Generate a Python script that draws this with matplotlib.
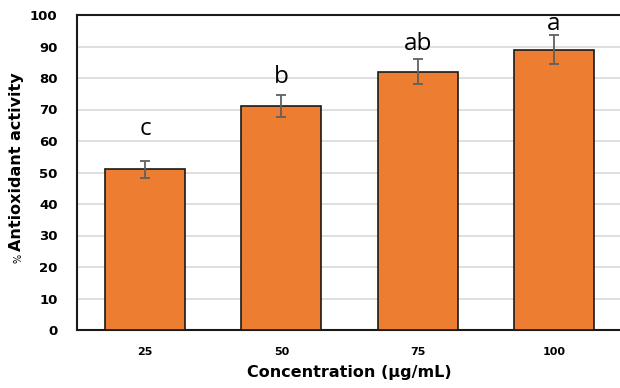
import matplotlib
matplotlib.use("Agg")
import matplotlib.pyplot as plt
import numpy as np

categories = ["25", "50", "75", "100"]
values = [51.0, 71.0, 82.0, 89.0]
errors = [2.7, 3.5, 4.0, 4.5]
letters = ["c", "b", "ab", "a"]
yticks = [0, 10, 20, 30, 40, 50, 60, 70, 80, 90, 100]

fig = plt.figure(figsize=(6.2, 3.88), dpi=100)
W, H = 620, 388
ax = fig.add_axes([77 / W, 1 - 330 / H, (622 - 77) / W, (330 - 15) / H])

x = np.arange(len(categories))
ax.bar(x, values, width=0.586, color="#ED7D31", edgecolor="#1a1a1a", linewidth=1.2, zorder=3)
ax.errorbar(x, values, yerr=errors, fmt="none", ecolor="#606060", elinewidth=1.3,
            capsize=3.5, capthick=1.3, zorder=4)

offsets = [6.4, 1.9, 0.9, -0.1]
for xi, v, e, l, o in zip(x, values, errors, letters, offsets):
    ax.text(xi, v + e + o, l, ha="center", va="bottom", fontsize=17.5,
            family=["Open Sans", "DejaVu Sans"], color="black")

ax.set_xlim(-0.5, 3.5)
ax.set_ylim(0, 100)
ax.set_yticks(yticks)
ax.set_xticks(x)
ax.set_xticklabels(categories, fontsize=8, fontweight="bold")
ax.set_yticklabels([str(t) for t in yticks], fontsize=9.5, fontweight="bold")
ax.tick_params(length=0)
ax.tick_params(axis="y", pad=14)
ax.tick_params(axis="x", pad=12)
ax.yaxis.grid(True, color="#d9d9d9", linewidth=1.2, zorder=0)
ax.set_axisbelow(True)
for s in ["top", "left", "bottom"]:
    ax.spines[s].set_linewidth(1.5)
    ax.spines[s].set_color("#1a1a1a")
ax.spines["right"].set_visible(False)

ax.set_xlabel("Concentration (\u03bcg/mL)", fontsize=11.5, fontweight="bold", labelpad=6)
fig.text(17 / W, 1 - 162 / H, "Antioxidant activity", rotation=90, ha="center", va="center",
         fontsize=11.5, fontweight="bold")
fig.text(19 / W, 1 - 258 / H, "%", rotation=90, ha="center", va="center",
         fontsize=7, fontweight="normal")

fig.savefig("out.png", dpi=100)
